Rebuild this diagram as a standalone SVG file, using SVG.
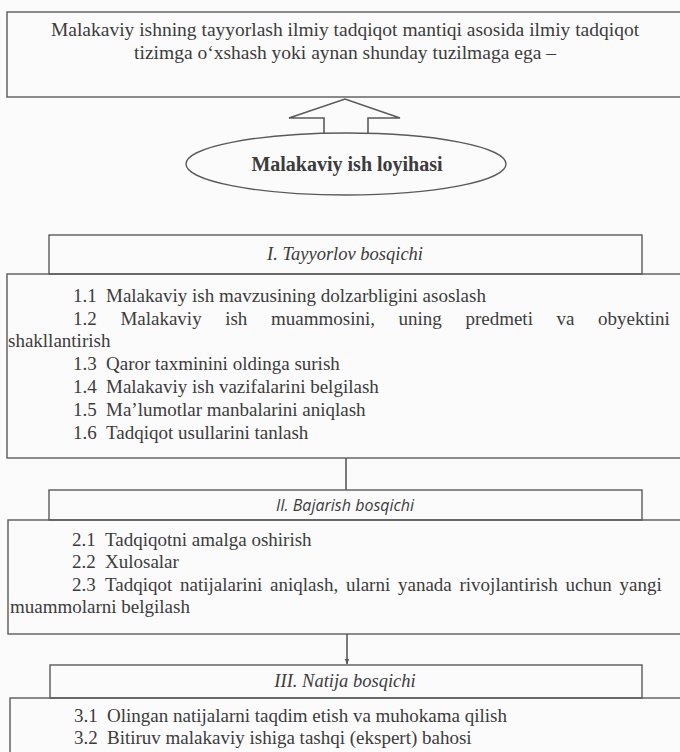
<svg xmlns="http://www.w3.org/2000/svg" width="680" height="752" viewBox="0 0 680 752">
<defs>
<style>
.box{fill:none;stroke:#5a5a5a;stroke-width:1.4}
.t{font-family:"Liberation Serif","Times New Roman",serif;font-size:19px;fill:#3c3c3c}
.tt{font-family:"Liberation Serif","Times New Roman",serif;font-size:19.5px;fill:#3c3c3c}
.hd{font-family:"Liberation Serif","Times New Roman",serif;font-size:18.5px;font-style:italic;fill:#3c3c3c}
.hds{font-family:"Open Sans","Noto Sans",sans-serif;font-size:16px;font-style:italic;fill:#3c3c3c}
.b{font-family:"Liberation Serif","Times New Roman",serif;font-size:20px;font-weight:bold;fill:#3c3c3c}
.ln{stroke:#5a5a5a;stroke-width:1.6;fill:none}
</style>
<marker id="ah" viewBox="0 0 10 10" refX="9" refY="5" markerWidth="6" markerHeight="6" orient="auto" markerUnits="userSpaceOnUse">
<path d="M0,1 L10,5 L0,9 z" fill="#5a5a5a"/>
</marker>
</defs>
<rect width="680" height="752" fill="#fbfbfb"/>

<g id="goal">
<rect class="box" x="7" y="12" width="690" height="85"/>
<text class="tt" x="345" y="36" text-anchor="middle">Malakaviy ishning tayyorlash ilmiy tadqiqot mantiqi asosida ilmiy tadqiqot</text>
<text class="tt" x="345" y="59" text-anchor="middle">tizimga o‘xshash yoki aynan shunday tuzilmaga ega –</text>
</g>

<g id="project">
<ellipse class="box" cx="346" cy="164" rx="160" ry="31"/>
<text class="b" x="347" y="171" text-anchor="middle">Malakaviy ish loyihasi</text>
</g>

<g id="stage1-header">
<rect class="box" x="49" y="235" width="593" height="39"/>
<text class="hd" x="345" y="260" text-anchor="middle">I. Tayyorlov bosqichi</text>
</g>
<g id="stage1-body">
<rect class="box" x="7" y="274" width="690" height="184"/>
<text class="t" y="302"><tspan x="73">1.1 </tspan><tspan x="106">Malakaviy ish mavzusining dolzarbligini asoslash</tspan></text>
<text class="t" y="325"><tspan x="73">1.2 </tspan><tspan x="120.4">Malakaviy </tspan><tspan x="225.2">ish </tspan><tspan x="271">muammosini, </tspan><tspan x="398.6">uning </tspan><tspan x="465.4">predmeti </tspan><tspan x="556.6">va </tspan><tspan x="598.1">obyektini</tspan></text>
<text class="t" x="8" y="347">shakllantirish</text>
<text class="t" y="370"><tspan x="73">1.3 </tspan><tspan x="106">Qaror taxminini oldinga surish</tspan></text>
<text class="t" y="393"><tspan x="73">1.4 </tspan><tspan x="106">Malakaviy ish vazifalarini belgilash</tspan></text>
<text class="t" y="416"><tspan x="73">1.5 </tspan><tspan x="106">Ma’lumotlar manbalarini aniqlash</tspan></text>
<text class="t" y="439"><tspan x="73">1.6 </tspan><tspan x="106">Tadqiqot usullarini tanlash</tspan></text>
</g>

<g id="stage2-header">
<rect class="box" x="49" y="490" width="593" height="30"/>
<text class="hds" x="345" y="511" text-anchor="middle">II. Bajarish bosqichi</text>
</g>
<g id="stage2-body">
<rect class="box" x="8" y="520" width="690" height="114"/>
<text class="t" y="546"><tspan x="72">2.1 </tspan><tspan x="105">Tadqiqotni amalga oshirish</tspan></text>
<text class="t" y="568"><tspan x="72">2.2 </tspan><tspan x="105">Xulosalar</tspan></text>
<text class="t" y="591" word-spacing="3"><tspan x="72">2.3 </tspan><tspan x="105">Tadqiqot natijalarini aniqlash, ularni yanada rivojlantirish uchun yangi</tspan></text>
<text class="t" x="10" y="613">muammolarni belgilash</text>
</g>

<g id="stage3-header">
<rect class="box" x="50" y="665" width="592" height="33"/>
<text class="hd" x="345" y="687" text-anchor="middle">III. Natija bosqichi</text>
</g>
<g id="stage3-body">
<rect class="box" x="10" y="698" width="690" height="80"/>
<text class="t" y="722"><tspan x="74">3.1 </tspan><tspan x="107">Olingan natijalarni taqdim etish va muhokama qilish</tspan></text>
<text class="t" y="744"><tspan x="74">3.2 </tspan><tspan x="107">Bitiruv malakaviy ishiga tashqi (ekspert) bahosi</tspan></text>
</g>

<g id="connectors">
<polyline class="ln" points="324,134 324,118 289,118 345,99 400,118 368,118 368,134" fill="#fbfbfb"/>
<line class="ln" x1="346" y1="458" x2="346" y2="490"/>
<line class="ln" x1="347" y1="634" x2="347" y2="664" marker-end="url(#ah)"/>
</g>
</svg>
